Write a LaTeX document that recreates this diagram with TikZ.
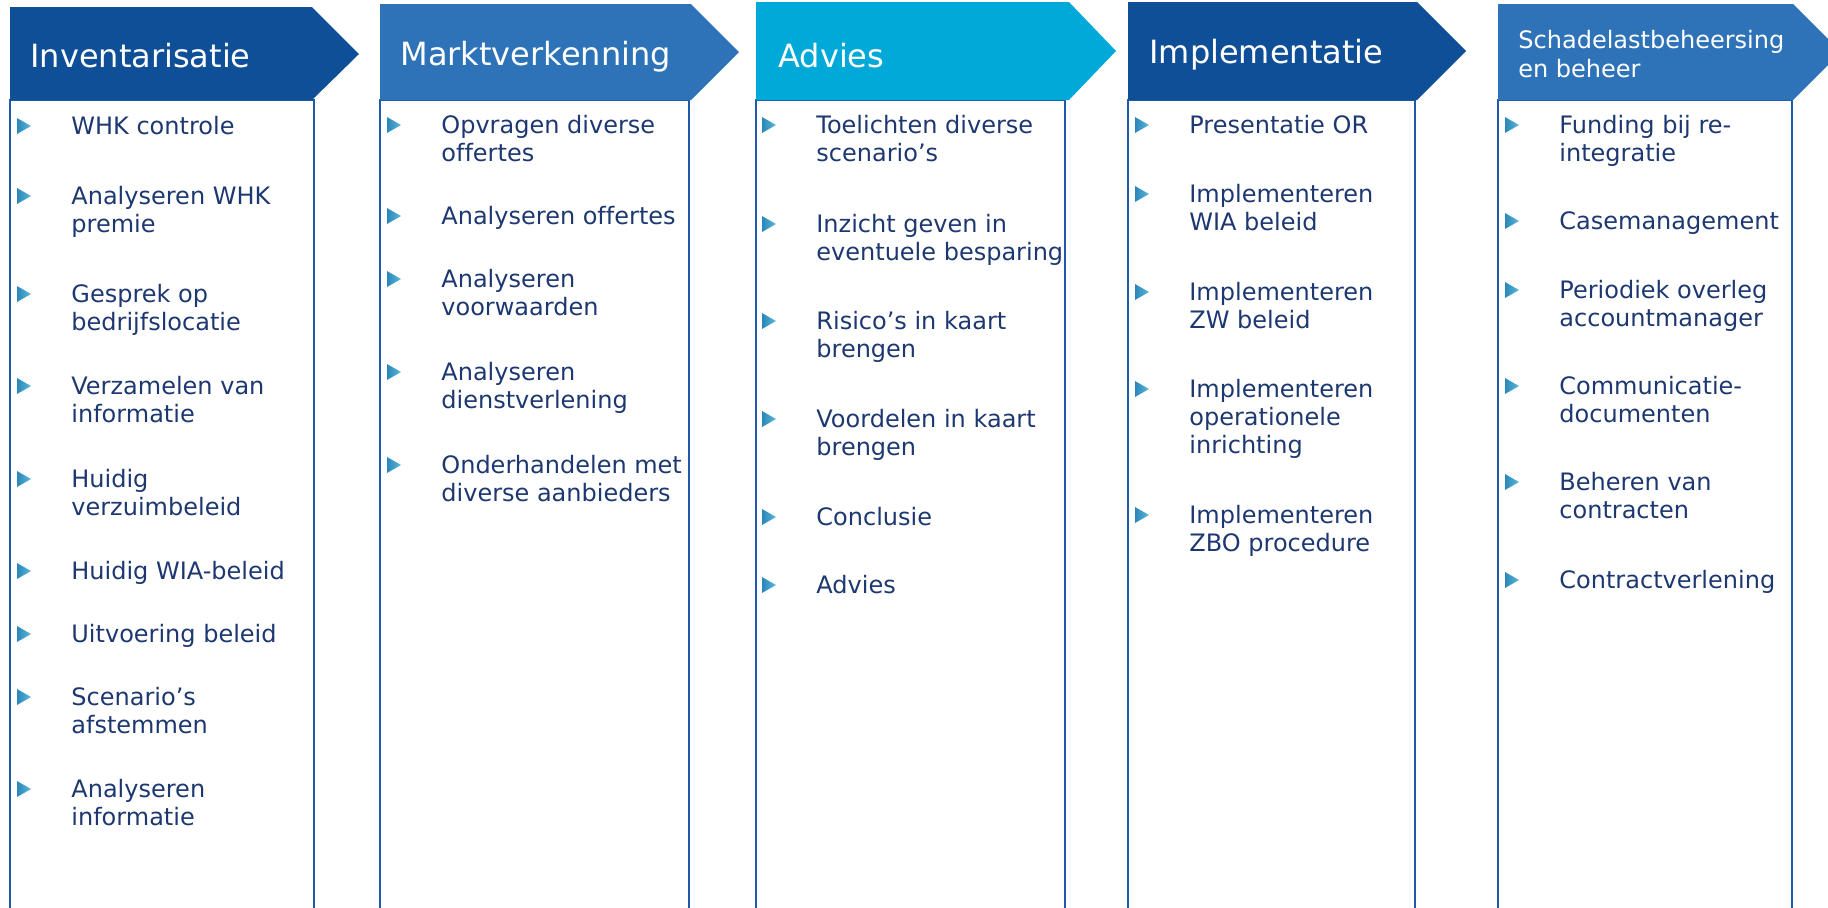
\documentclass[tikz,border=0pt]{standalone}
\usepackage{fontspec}
\setmainfont[Ligatures=NoCommon]{DejaVu Sans}
\usepackage{tikz}

\definecolor{headdark}{HTML}{0F4F97}
\definecolor{headmid}{HTML}{2E73B8}
\definecolor{headcyan}{HTML}{00A9D8}
\definecolor{boxblue}{HTML}{1E5AA8}
\definecolor{itemblue}{HTML}{1D3870}
\definecolor{tipdark}{HTML}{2A86B9}
\definecolor{tiplight}{HTML}{5DB9D8}

% lines of one entry, baseline on the first line
\newcommand{\itemlines}[1]{\begin{tabular}[t]{@{}l@{}}#1\end{tabular}}

\begin{document}
\begin{tikzpicture}[x=0.5pt, y=-0.5pt,
    head/.style = {anchor=base west, inner sep=0pt, text=white, font=\fontsize{16}{19}\selectfont},
    item/.style = {anchor=base west, inner sep=0pt, text=itemblue, font=\fontsize{12}{14}\selectfont},
    column/.style = {draw=boxblue, line width=1pt},
    tri/.pic = {\shade[left color=tipdark, right color=tiplight] (0,0) -- (14,8) -- (0,16) -- cycle;}]
    \useasboundingbox (0,0) rectangle (1828,907);
    \clip (0,0) rectangle (1828,907);

    % columns
    \draw[column] (10,100) rectangle (314,930);
    \draw[column] (380,100) rectangle (689,930);
    \draw[column] (756,100) rectangle (1065,930);
    \draw[column] (1128,100) rectangle (1415,930);
    \draw[column] (1498,100) rectangle (1792,930);

    % headers
    \fill[headdark] (10,7) -- (312,7) -- (359,54) -- (312,100) -- (10,100) -- cycle;
    \fill[headmid] (380,4) -- (691,4) -- (739,52) -- (691,100) -- (380,100) -- cycle;
    \fill[headcyan] (756,2) -- (1069,2) -- (1116,51) -- (1069,100) -- (756,100) -- cycle;
    \fill[headdark] (1128,2) -- (1417,2) -- (1466,51) -- (1417,100) -- (1128,100) -- cycle;
    \fill[headmid] (1498,4) -- (1793,4) -- (1841,52) -- (1793,100) -- (1498,100) -- cycle;

    \node[head] (h1) at (30,67) {Inventarisatie};
    \node[head] (h2) at (400,65) {Marktverkenning};
    \node[head] (h3) at (778,67) {Advies};
    \node[head] (h4) at (1149,63) {Implementatie};
    \node[head, font=\fontsize{12}{14.5}\selectfont] (h5) at (1518,48) {\itemlines{Schadelastbeheersing\\en beheer}};

    % Inventarisatie
    \node[item] (inv1) at (71,134) {\itemlines{WHK controle}};
    \node[item] (inv2) at (71,204) {\itemlines{Analyseren WHK\\premie}};
    \node[item] (inv3) at (71,302) {\itemlines{Gesprek op\\bedrijfslocatie}};
    \node[item] (inv4) at (71,394) {\itemlines{Verzamelen van\\informatie}};
    \node[item] (inv5) at (71,487) {\itemlines{Huidig\\verzuimbeleid}};
    \node[item] (inv6) at (71,579) {\itemlines{Huidig WIA-beleid}};
    \node[item] (inv7) at (71,642) {\itemlines{Uitvoering beleid}};
    \node[item] (inv8) at (71,705) {\itemlines{Scenario’s\\afstemmen}};
    \node[item] (inv9) at (71,797) {\itemlines{Analyseren\\informatie}};

    % Marktverkenning
    \node[item] (mkt1) at (441,133) {\itemlines{Opvragen diverse\\offertes}};
    \node[item] (mkt2) at (441,224) {\itemlines{Analyseren offertes}};
    \node[item] (mkt3) at (441,287) {\itemlines{Analyseren\\voorwaarden}};
    \node[item] (mkt4) at (441,380) {\itemlines{Analyseren\\dienstverlening}};
    \node[item] (mkt5) at (441,473) {\itemlines{Onderhandelen met\\diverse aanbieders}};

    % Advies
    \node[item] (adv1) at (816,133) {\itemlines{Toelichten diverse\\scenario’s}};
    \node[item] (adv2) at (816,232) {\itemlines{Inzicht geven in\\eventuele besparing}};
    \node[item] (adv3) at (816,329) {\itemlines{Risico’s in kaart\\brengen}};
    \node[item] (adv4) at (816,427) {\itemlines{Voordelen in kaart\\brengen}};
    \node[item] (adv5) at (816,525) {\itemlines{Conclusie}};
    \node[item] (adv6) at (816,593) {\itemlines{Advies}};

    % Implementatie
    \node[item] (imp1) at (1189,133) {\itemlines{Presentatie OR}};
    \node[item] (imp2) at (1189,202) {\itemlines{Implementeren\\WIA beleid}};
    \node[item] (imp3) at (1189,300) {\itemlines{Implementeren\\ZW beleid}};
    \node[item] (imp4) at (1189,397) {\itemlines{Implementeren\\operationele\\inrichting}};
    \node[item] (imp5) at (1189,523) {\itemlines{Implementeren\\ZBO procedure}};

    % Schadelastbeheersing
    \node[item] (sch1) at (1559,133) {\itemlines{Funding bij re-\\integratie}};
    \node[item] (sch2) at (1559,229) {\itemlines{Casemanagement}};
    \node[item] (sch3) at (1559,298) {\itemlines{Periodiek overleg\\accountmanager}};
    \node[item] (sch4) at (1559,394) {\itemlines{Communicatie-\\documenten}};
    \node[item] (sch5) at (1559,490) {\itemlines{Beheren van\\contracten}};
    \node[item] (sch6) at (1559,588) {\itemlines{Contractverlening}};

    % bullets
    \foreach \n in {inv1,inv2,inv3,inv4,inv5,inv6,inv7,inv8,inv9,
                    mkt1,mkt2,mkt3,mkt4,mkt5,
                    adv1,adv2,adv3,adv4,adv5,adv6,
                    imp1,imp2,imp3,imp4,imp5,
                    sch1,sch2,sch3,sch4,sch5,sch6}
        \pic at ([xshift=-27pt, yshift=8pt]\n.base west) {tri};
\end{tikzpicture}
\end{document}
